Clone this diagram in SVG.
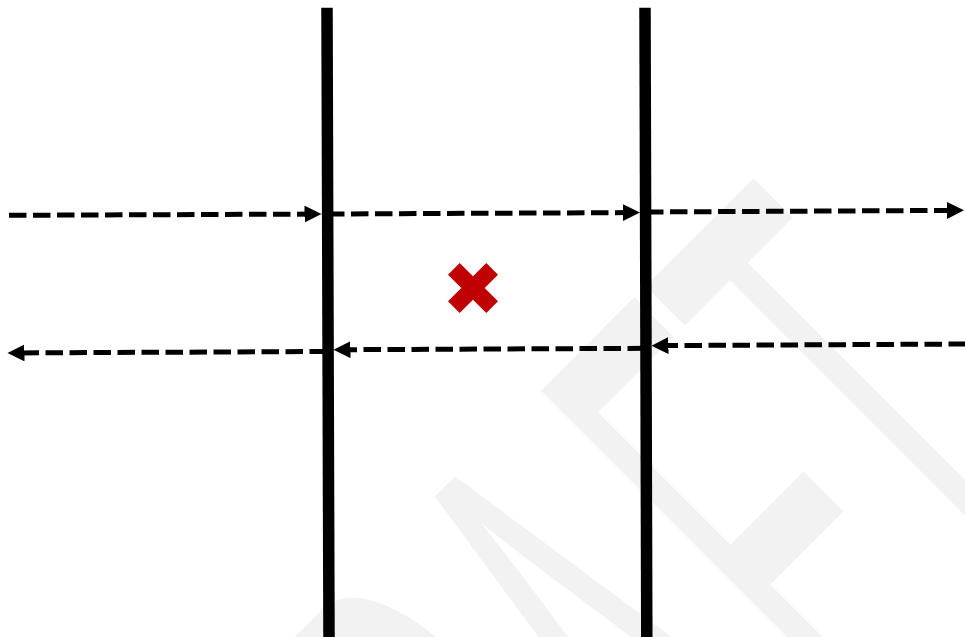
<svg xmlns="http://www.w3.org/2000/svg" width="965" height="637" viewBox="0 0 965 637">
  <style>
    .wall { stroke: #000000; stroke-width: 11.5; fill: none; }
    .flow { stroke: #000000; stroke-width: 5; fill: none; stroke-dasharray: 17.5 6.5; }
    .watermark { font-family: "Liberation Sans", Arial, sans-serif; font-weight: normal; fill: #f2f2f2; }
  </style>
  <defs>
    <marker id="head" markerUnits="userSpaceOnUse" markerWidth="18" markerHeight="18" refX="5" refY="8.5" orient="auto">
      <path d="M0,0 L17,8.5 L0,17 Z" fill="#000000"/>
    </marker>
  </defs>
  <rect width="965" height="637" fill="#ffffff"/>
  <g id="watermark">
    <text class="watermark" x="-510 -315 -120 84 248" y="428.8" font-size="270" transform="rotate(-45) scale(1,2.71)">DRAFT</text>
  </g>
  <g id="wall-left">
    <line class="wall" x1="327" y1="7.7" x2="329" y2="640"/>
  </g>
  <g id="wall-right">
    <line class="wall" x1="645" y1="7.7" x2="646.8" y2="640"/>
  </g>
  <g id="blocked-marker">
    <path transform="translate(473,288) rotate(45)" fill="#c00000" d="M-8.25,-27.1 L8.25,-27.1 L8.25,-8.25 L27.1,-8.25 L27.1,8.25 L8.25,8.25 L8.25,27.1 L-8.25,27.1 L-8.25,8.25 L-27.1,8.25 L-27.1,-8.25 L-8.25,-8.25 Z"/>
  </g>
  <g id="connectors">
    <path class="flow" d="M9,215.3 L309.5,214.1" marker-end="url(#head)"/>
    <path class="flow" d="M327,214 L628,212.6" marker-end="url(#head)"/>
    <path class="flow" d="M646,212 L952,210.4" marker-end="url(#head)"/>
    <path class="flow" d="M966,344 L663.5,345.6" marker-end="url(#head)"/>
    <path class="flow" d="M645,348.3 L345.5,349.7" marker-end="url(#head)"/>
    <path class="flow" d="M327,351.5 L19.5,352.9" marker-end="url(#head)"/>
  </g>
</svg>
